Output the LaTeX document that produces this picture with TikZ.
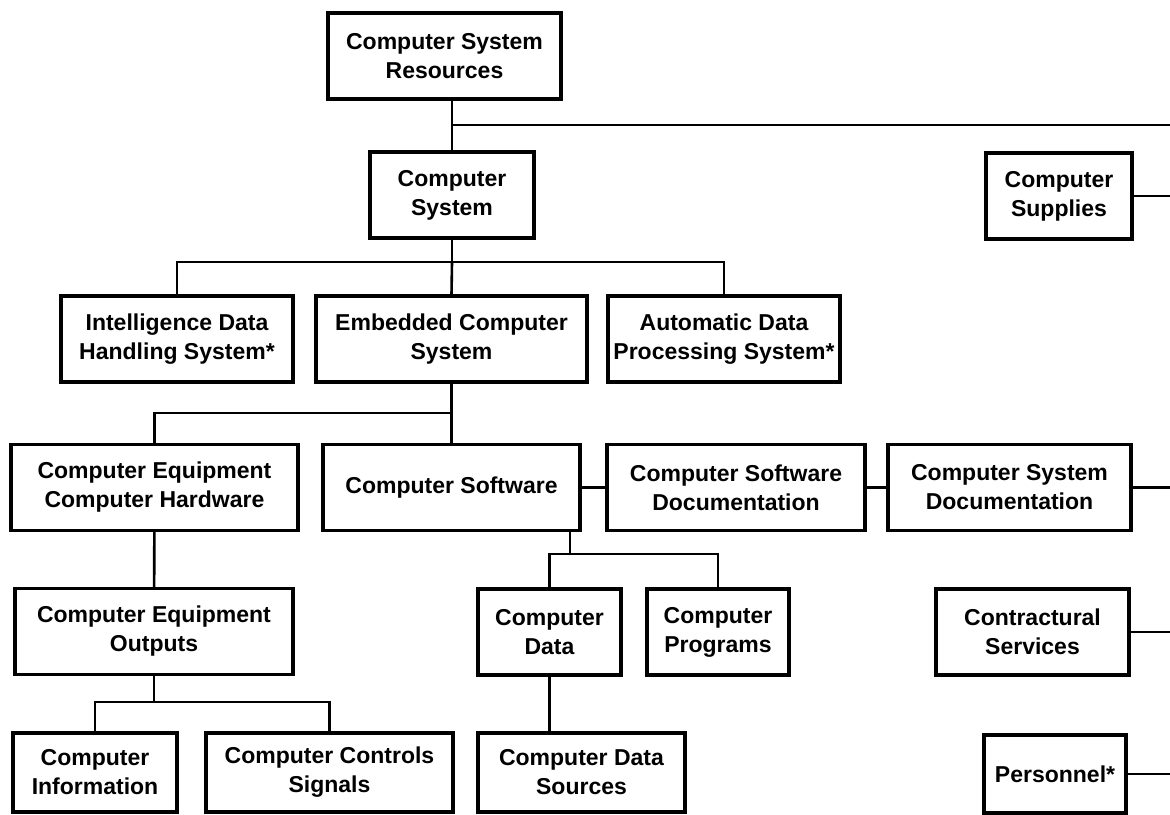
\documentclass[tikz,border=0pt]{standalone}
\usepackage{fontspec}
\setsansfont{Liberation Sans}
\usetikzlibrary{calc}
\newcommand*{\redge}{1170}
\newcommand*{\boxht}{43pt}

\begin{document}
\begin{tikzpicture}[x=0.5pt, y=-0.5pt,
    font=\sffamily\bfseries\fontsize{11.5}{14.5}\selectfont,
    box/.style={draw, line width=1.7pt, align=center, inner sep=0pt, minimum height=\boxht},
    link/.style={line width=1.3pt}]
    \useasboundingbox (0,0) rectangle (\redge,814);
    \coordinate (edge) at (\redge,0);

    % top levels
    \node [box, minimum width=116.5pt] (csr)  at ( 444.5, 56)   {Computer System\\Resources};
    \node [box, minimum width=82pt]    (cs)   at ( 452,  195)   {Computer\\System};
    \node [box, minimum width=73pt]    (sup)  at (1059,  196)   {Computer\\Supplies};
    \node [box, minimum width=116pt]   (idh)  at ( 177,  339)   {Intelligence Data\\Handling System*};
    \node [box, minimum width=135.5pt] (ecs)  at ( 451.5,339)   {Embedded Computer\\System};
    \node [box, minimum width=116pt]   (adp)  at ( 724,  339)   {Automatic Data\\Processing System*};

    % middle row
    \node [box, minimum width=143.5pt] (ceh)  at ( 154.5,487.5) {Computer Equipment\\Computer Hardware};
    \node [box, minimum width=128.5pt] (sw)   at ( 451.5,487.5) {Computer Software};
    \node [box, minimum width=129pt]   (swd)  at ( 736,  487.5) {Computer Software\\Documentation};
    \node [box, minimum width=121.5pt] (sysd) at (1009.5,487.5) {Computer System\\Documentation};
    \node [box, minimum width=139pt]   (ceo)  at ( 154,  631.5) {Computer Equipment\\Outputs};
    \node [box, minimum width=71.5pt]  (cdat) at ( 549.5,632)   {Computer\\Data};
    \node [box, minimum width=71pt]    (cprg) at ( 718,  632)   {Computer\\Programs};
    \node [box, minimum width=96.5pt]  (csv)  at (1032.5,632)   {Contractural\\Services};

    % bottom row
    \node [box, minimum width=82pt,    minimum height=39.5pt] (cinf) at ( 95,  772.5) {Computer\\Information};
    \node [box, minimum width=123.5pt, minimum height=39.5pt] (cctl) at (329.5,772.5) {Computer Controls\\Signals};
    \node [box, minimum width=103.5pt, minimum height=39.5pt] (csrc) at (581.5,772.5) {Computer Data\\Sources};
    \node [box, minimum width=71pt,    minimum height=39pt]   (pers) at (1055, 774)   {Personnel*};

    % bus points
    \coordinate (b0) at (452,125);
    \coordinate (b1) at (452,262);
    \coordinate (b2) at (451.5,413);
    \coordinate (b3) at (154,702);
    \coordinate (b4) at (570,554);

    \draw [link] (cs.north) -- (cs.north |- csr.south);
    \draw [link] (b0) -- (b0 -| edge);
    \draw [link] (sup.east) -- (sup.east -| edge);
    \draw [link] (cs) -- (b1);
    \draw [link] (idh.north) |- (b1) -| (adp.north);
    \draw [link] (b1) -- (ecs.north);
    \draw [link] (ecs) -- (sw);
    \draw [link] (ceh.north) |- (b2);
    \draw [link] (sw) -- (swd);
    \draw [link] (swd) -- (sysd);
    \draw [link] (sysd.east) -- (sysd.east -| edge);
    \draw [link] (ceh) -- (ceo);
    \draw [link] (ceo) -- (b3);
    \draw [link] (cinf.north) |- (b3) -| (cctl.north);
    \draw [link] (b4 |- sw.south) -- (b4);
    \draw [link] (cdat.north) |- (b4) -| (cprg.north);
    \draw [link] (cdat.south) -- (cdat.south |- csrc.north);
    \draw [link] (csv.east) -- (csv.east -| edge);
    \draw [link] (pers.east) -- (pers.east -| edge);
\end{tikzpicture}
\end{document}
